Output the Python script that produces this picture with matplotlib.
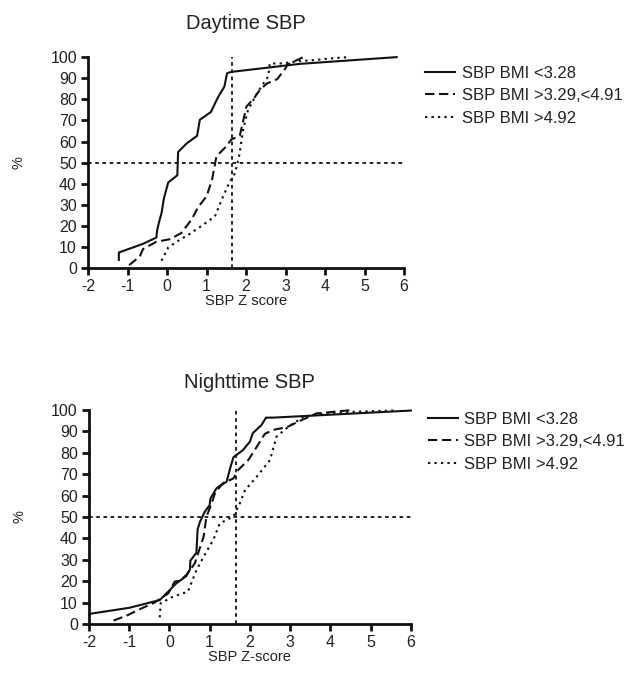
"""Cumulative distribution of SBP Z scores by BMI group, daytime and nighttime."""

import matplotlib
matplotlib.use("Agg")
import matplotlib.pyplot as plt

plt.rcParams["font.family"] = ["Liberation Sans", "DejaVu Sans"]
plt.rcParams["axes.unicode_minus"] = False

LABELS = ["SBP BMI <3.28", "SBP BMI >3.29,<4.91", "SBP BMI >4.92"]
Z_CUTOFF = 1.645
HALF = 50

# Daytime SBP
DAY_LOW_X = [-1.22, -1.22, -0.61, -0.27, -0.25, -0.2, -0.14, -0.08, 0.03, 0.26, 0.28,
             0.49, 0.76, 0.83, 1.11, 1.29, 1.45, 1.52, 1.63, 3.36, 5.81]
DAY_LOW_Y = [3.9, 7.4, 11.5, 14.5, 18, 22, 26, 33, 40.6, 44, 55,
             59, 62.7, 70.3, 74, 81, 86, 92.4, 93, 96.8, 100]
DAY_MID_X = [-0.96, -0.69, -0.61, -0.27, 0.07, 0.36, 0.62, 0.79, 1.0, 1.14, 1.25,
             1.5, 1.63, 1.84, 2.01, 2.18, 2.35, 2.52, 2.79, 3.0, 3.04, 3.45]
DAY_MID_Y = [1.4, 5.5, 9, 12.5, 13.7, 16.6, 23, 29, 34, 42, 53,
             57.7, 61, 62.7, 76.6, 80, 84.5, 87.4, 89.6, 94.8, 96.4, 100]
DAY_HIGH_X = [-0.14, 0.03, 0.32, 0.58, 0.91, 1.21, 1.42, 1.57, 1.72, 1.83, 1.93,
              2.05, 2.25, 2.42, 2.56, 2.6, 2.94, 3.28, 3.79, 4.21, 4.59]
DAY_HIGH_Y = [3.5, 9.8, 13.4, 16.3, 20.5, 24.5, 34, 40.3, 45, 53.7, 66,
              75, 82, 87, 90.8, 97, 97, 98, 98.7, 99.5, 100]

# Nighttime SBP
NIGHT_LOW_X = [-2.0, -0.99, -0.24, 0.01, 0.17, 0.42, 0.51, 0.52, 0.67, 0.7, 0.76,
               0.88, 1.0, 1.02, 1.17, 1.42, 1.52, 1.59, 1.83, 2.0, 2.07, 2.29,
               2.4, 2.58, 6.0]
NIGHT_LOW_Y = [4.7, 7.6, 11.2, 15.9, 19, 22.4, 25.5, 29.6, 33.3, 44.2, 47.8,
               52.5, 55.6, 58.7, 63.4, 66.5, 73.5, 77.9, 81.3, 85.2, 89.1, 93,
               96.4, 96.4, 99.7]
NIGHT_MID_X = [-1.39, -1.03, -0.74, -0.37, -0.03, 0.13, 0.26, 0.42, 0.63, 0.74, 0.85,
               0.92, 1.05, 1.13, 1.32, 1.59, 1.71, 1.96, 2.12, 2.37, 2.58, 2.91,
               3.29, 3.66, 4.57]
NIGHT_MID_Y = [1.6, 4.2, 6.9, 10, 14.3, 19.8, 20.2, 22.9, 28.3, 34.6, 40.8,
               50.2, 56.4, 61, 65.7, 68, 72, 76.6, 81.3, 88.8, 90.7, 91.9,
               95.3, 98.4, 100]
NIGHT_HIGH_X = [-0.24, -0.22, 0.09, 0.46, 0.67, 0.92, 1.09, 1.25, 1.59, 1.75, 1.88,
                2.17, 2.5, 2.66, 2.91, 3.33, 3.91, 4.66, 5.57]
NIGHT_HIGH_Y = [3.1, 9.7, 12.8, 15.1, 25.2, 33.8, 39.3, 47, 50.2, 56.4, 62.6,
                68.8, 76.6, 87.5, 91.4, 96.9, 98.4, 99.2, 99.7]

STYLES = ["-", (0, (4.5, 2.2)), (0, (1.1, 2.0))]


def draw_panel(fig, rect, title, title_pad, xlabel, series, legend_anchor):
    ax = fig.add_axes(rect)
    lines = []
    for (xs, ys), style in zip(series, STYLES):
        (ln,) = ax.plot(xs, ys, color="#111111", linestyle=style, linewidth=1.5,
                        clip_on=False)
        lines.append(ln)
    ax.axvline(Z_CUTOFF, color="#111111", linestyle=(0, (2, 2)), linewidth=1.3)
    ax.axhline(HALF, color="#111111", linestyle=(0, (2, 2)), linewidth=1.3)

    ax.set_xlim(-2, 6)
    ax.set_ylim(0, 100)
    ax.set_xticks(range(-2, 7))
    ax.set_yticks(range(0, 101, 10))
    for side in ("top", "right"):
        ax.spines[side].set_visible(False)
    for side in ("left", "bottom"):
        ax.spines[side].set_linewidth(2)
        ax.spines[side].set_color("#111111")
    ax.tick_params(direction="out", length=5, width=2, color="#111111",
                   labelsize=11.5, labelcolor="#222222", pad=3)

    ax.set_title(title, fontsize=14.5, color="#222222", pad=title_pad)
    ax.set_xlabel(xlabel, fontsize=10.5, color="#222222", labelpad=0)
    ax.set_ylabel("%", fontsize=10.5, color="#222222", labelpad=18)

    ax.legend(lines, LABELS, loc="upper left", bbox_to_anchor=legend_anchor,
              frameon=False, fontsize=12, handlelength=1.8,
              handletextpad=0.4, labelspacing=0.45,
              labelcolor="#222222")
    return ax


fig = plt.figure(figsize=(6.4, 6.84), dpi=100)

draw_panel(fig, [0.1375, 0.608, 0.494, 0.3085], "Daytime SBP", 20, "SBP Z score",
           [(DAY_LOW_X, DAY_LOW_Y), (DAY_MID_X, DAY_MID_Y), (DAY_HIGH_X, DAY_HIGH_Y)],
           (1.02, 1.03))
draw_panel(fig, [0.139, 0.0877, 0.503, 0.313], "Nighttime SBP", 16, "SBP Z-score",
           [(NIGHT_LOW_X, NIGHT_LOW_Y), (NIGHT_MID_X, NIGHT_MID_Y),
            (NIGHT_HIGH_X, NIGHT_HIGH_Y)],
           (1.006, 1.062))

fig.savefig("out.png", dpi=100)
